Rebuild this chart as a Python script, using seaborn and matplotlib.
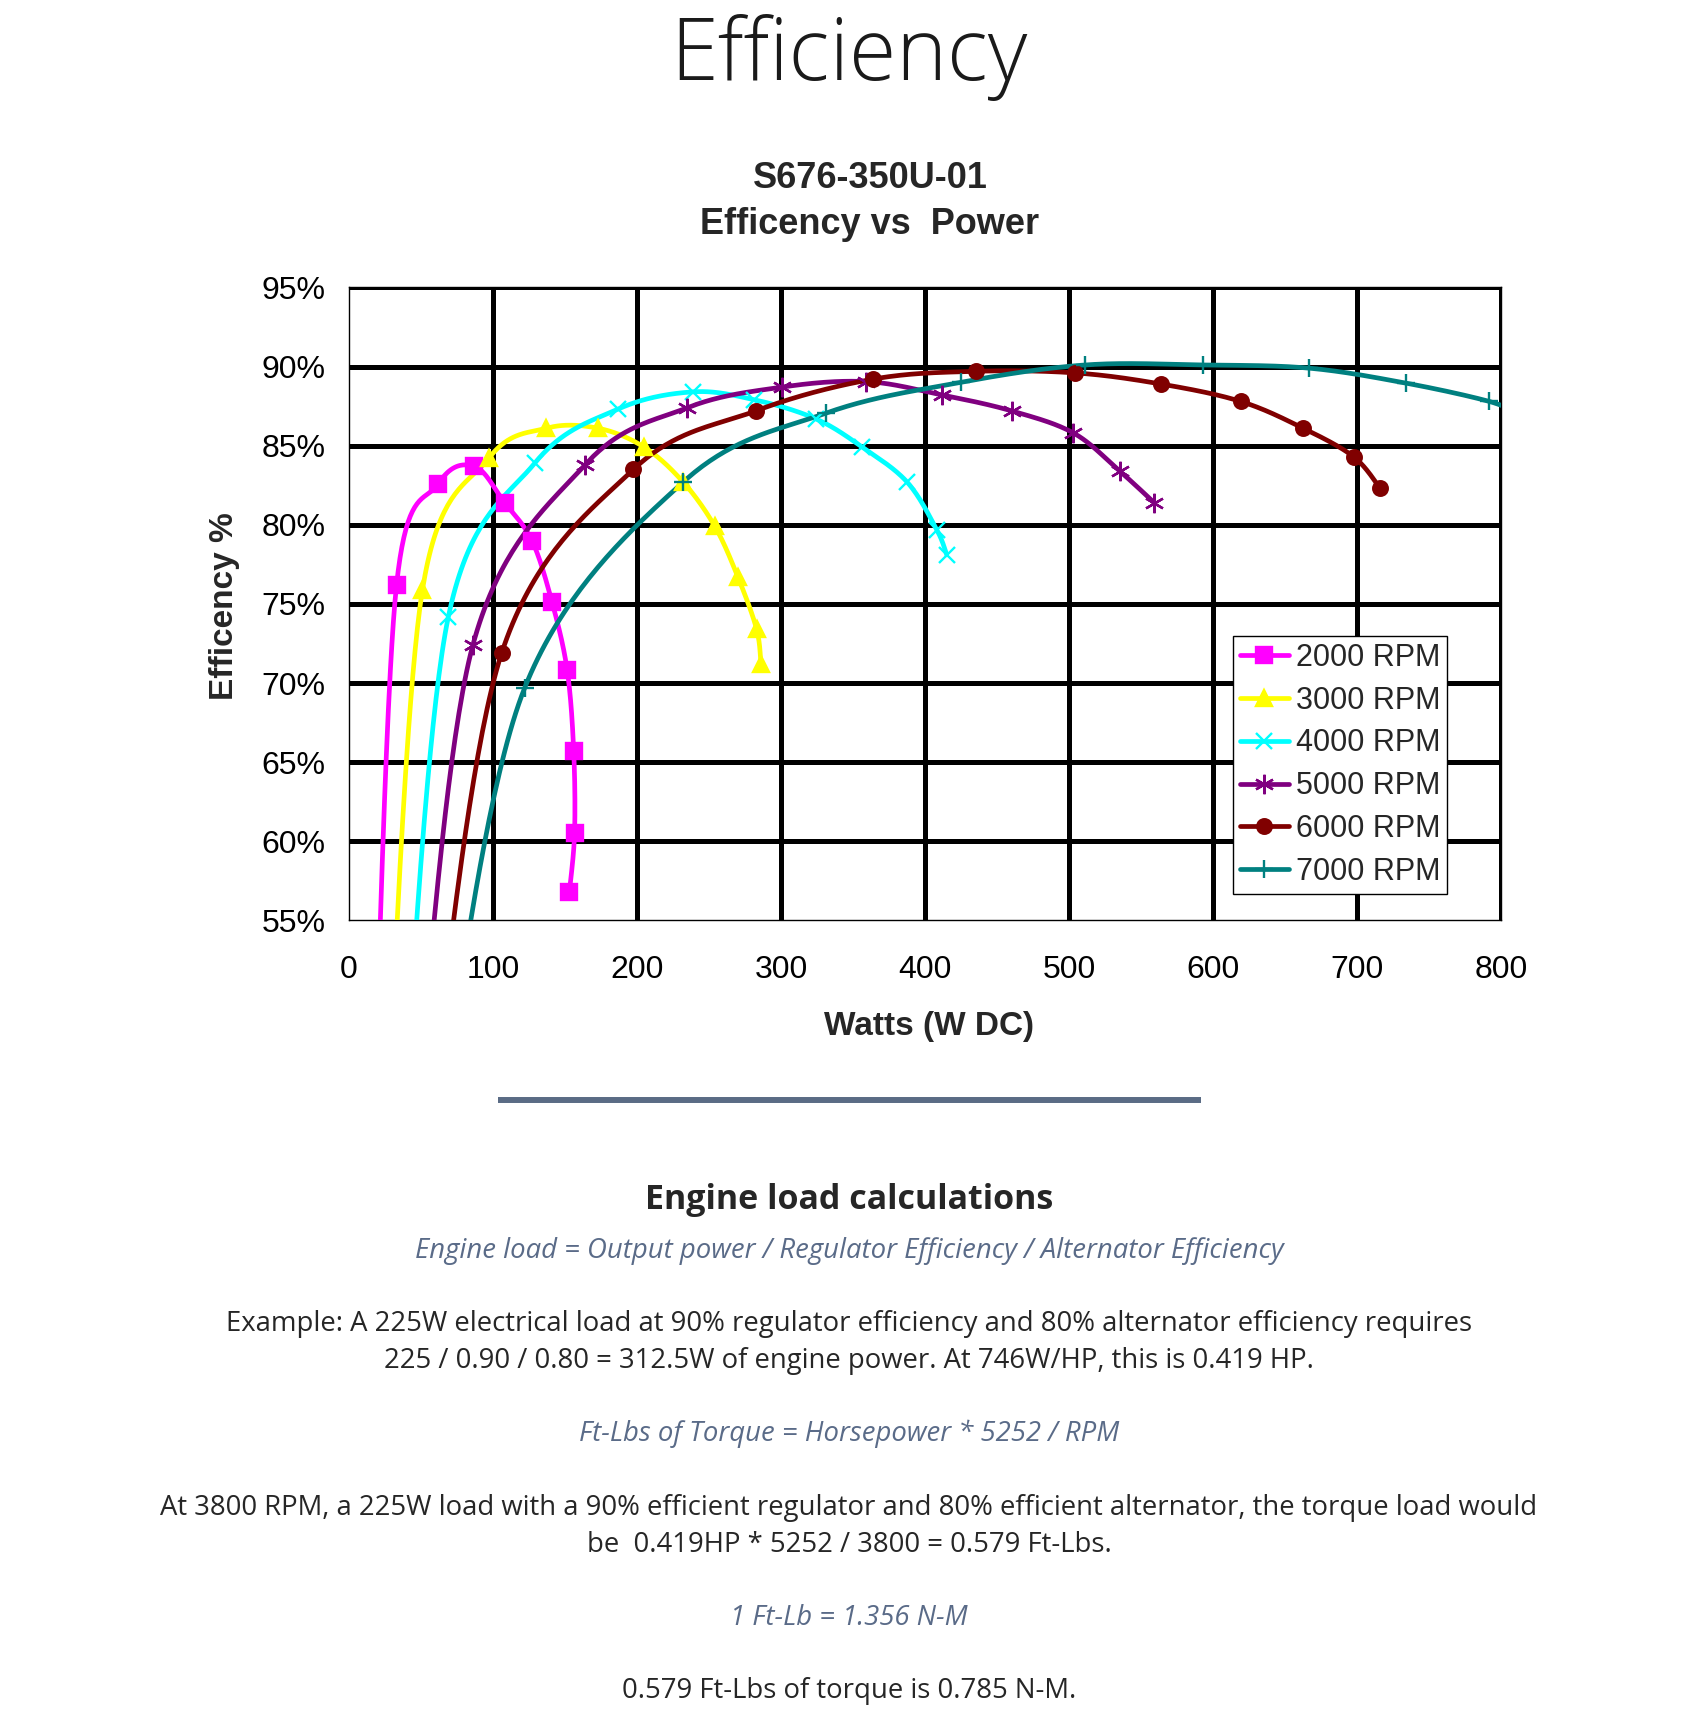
import numpy as np
import pandas as pd
import seaborn as sns
import matplotlib.pyplot as plt
from matplotlib.lines import Line2D
from matplotlib.ticker import FuncFormatter

# output power (W DC) and efficiency (%) per speed.
# the first point of every series lies below the 55% floor and is clipped.
w_2000 = [18, 33, 62, 87, 108, 127, 141, 151.5, 156, 156.6, 153]
e_2000 = [45, 76.2, 82.6, 83.7, 81.4, 79.0, 75.1, 70.8, 65.7, 60.5, 56.8]

w_3000 = [27.5, 51, 97, 137, 173, 205, 232, 254, 270, 283, 286]
e_3000 = [45, 75.9, 84.2, 86.1, 86.1, 84.9, 82.7, 79.9, 76.7, 73.4, 71.2]

w_4000 = [39, 69, 129, 186.5, 238.5, 281.5, 324, 356.5, 387.5, 408, 415]
e_4000 = [45, 74.2, 83.9, 87.3, 88.4, 87.9, 86.7, 84.9, 82.7, 79.7, 78.1]

w_5000 = [48.5, 86, 164, 235, 300.5, 359, 412, 460, 503, 535, 559]
e_5000 = [45, 72.4, 83.8, 87.4, 88.7, 89.05, 88.2, 87.2, 85.8, 83.4, 81.4]

w_6000 = [58.5, 106, 197.5, 282.5, 363.5, 435, 504, 563.5, 619, 662.5, 697.5, 716]
e_6000 = [45, 71.9, 83.5, 87.2, 89.2, 89.7, 89.6, 88.9, 87.8, 86.1, 84.3, 82.3]

w_7000 = [66.5, 122, 232, 331, 424.6, 511, 593, 666.5, 734, 791.5, 812]
e_7000 = [45, 69.7, 82.7, 87.05, 89.0, 90.1, 90.1, 89.9, 88.95, 87.8, 87.0]

labels = ['2000 RPM', '3000 RPM', '4000 RPM', '5000 RPM', '6000 RPM', '7000 RPM']
colors = ['#FF00FF', '#FFFF00', '#00FFFF', '#800080', '#800000', '#008080']
markers = ['s', '^', 'x', (6, 2, 0), 'o', '+']
msizes = [11, 11, 12, 14, 10.5, 13]

series = [(w_2000, e_2000), (w_3000, e_3000), (w_4000, e_4000),
          (w_5000, e_5000), (w_6000, e_6000), (w_7000, e_7000)]


def smooth(x, y, n=40):
    # excel style smoothed line: bezier segments with catmull-rom handles
    p = np.column_stack([x, y]).astype(float)
    p = np.vstack([p[0], p, p[-1]])
    out = []
    t = np.linspace(0, 1, n)[:, None]
    for i in range(1, len(p) - 2):
        p0, p1, p2, p3 = p[i - 1], p[i], p[i + 1], p[i + 2]
        b1 = p1 + (p2 - p0) / 6
        b2 = p2 - (p3 - p1) / 6
        seg = (1 - t) ** 3 * p1 + 3 * (1 - t) ** 2 * t * b1 + 3 * (1 - t) * t ** 2 * b2 + t ** 3 * p2
        out.append(seg)
    return np.vstack(out)


sns.set_style('white')
narrow = ['Open Sans', 'DejaVu Sans']
plt.rcParams['font.family'] = ['Liberation Sans', 'DejaVu Sans']

fig = plt.figure(figsize=(17, 17.12), dpi=100)
ax = fig.add_axes([0.2053, 0.4624, 0.6778, 0.3697])

for (w, e), lab, c, m, ms in zip(series, labels, colors, markers, msizes):
    curve = smooth(w, e)
    df = pd.DataFrame({'W': curve[:, 0], 'E': curve[:, 1]})
    sns.lineplot(data=df, x='W', y='E', sort=False, estimator=None,
                 color=c, linewidth=3.4, ax=ax, legend=False, zorder=3)
    ax.plot(w, e, linestyle='none', marker=m, markersize=ms, color=c,
            markeredgewidth=1.7, zorder=4)

ax.set_xlim(0, 800)
ax.set_ylim(55, 95)
ax.set_xticks(range(0, 801, 100))
ax.set_yticks(range(55, 96, 5))
for xv in range(100, 801, 100):
    ax.axvline(xv, color='black', linewidth=3.6, zorder=1)
for yv in range(60, 96, 5):
    ax.axhline(yv, color='black', linewidth=3.6, zorder=1)

ax.yaxis.set_major_formatter(FuncFormatter(lambda v, p: f'{v:.0f}%'))
ax.tick_params(axis='both', direction='out', length=5, width=1, color='black',
               labelsize=23, labelcolor='black')
ax.tick_params(axis='y', pad=12)
ax.tick_params(axis='x', pad=20)
for s in ax.spines.values():
    s.set_color('black')
    s.set_linewidth(1)
ax.set_xlabel('')
ax.set_ylabel('')

handles = [Line2D([0], [0], color=c, linewidth=3.4, marker=m, markersize=ms,
                  markeredgewidth=1.7)
           for c, m, ms in zip(colors, markers, msizes)]
leg = ax.legend(handles, labels, loc='upper left', bbox_to_anchor=(0.7674, 0.4493),
                borderaxespad=0, fontsize=22, frameon=True, fancybox=False,
                edgecolor='black', framealpha=1, handlelength=1.6,
                handletextpad=0.22, labelspacing=0.42, borderpad=0.22)
leg.get_frame().set_linewidth(1)
leg.set_zorder(6)

# chart titles and axis labels
fig.text(0.5118, 1 - 178 / 1712, 'S676-350U-01', ha='center', va='center',
         fontsize=26, fontweight='bold')
fig.text(0.5118, 1 - 225 / 1712, 'Efficency vs  Power', ha='center', va='center',
         fontsize=26, fontweight='bold')
fig.text(224 / 1700, 1 - 606 / 1712, 'Efficency %', rotation=90, ha='center',
         va='center', fontsize=24, fontweight='bold')
fig.text(929 / 1700, 1 - 1026 / 1712, 'Watts (W DC)', ha='center', va='center',
         fontsize=24, fontweight='bold')

# page heading
fig.text(0.4994, 1 - 80 / 1712, 'Efficiency', ha='center', va='baseline',
         fontsize=62, fontweight='light', family=narrow, color='#1a1a1a')

# separator rule
fig.add_artist(Line2D([498 / 1700, 1201 / 1700], [1 - 1100 / 1712] * 2,
                      color='#5a6b85', linewidth=4.3, solid_capstyle='butt',
                      transform=fig.transFigure))

dark = '#262626'
slate = '#5a6b88'
body = 19.8
fig.text(0.4994, 1 - 1200 / 1712, 'Engine load calculations', ha='center', va='center',
         fontsize=24.5, fontweight='bold', family=narrow, color=dark)
fig.text(0.4994, 1 - 1251 / 1712,
         'Engine load = Output power / Regulator Efficiency / Alternator Efficiency',
         ha='center', va='center', fontsize=body, style='italic', family=narrow, color=slate)
fig.text(0.4994, 1 - 1324 / 1712,
         'Example: A 225W electrical load at 90% regulator efficiency and 80% alternator efficiency requires',
         ha='center', va='center', fontsize=body, family=narrow, color=dark)
fig.text(0.4994, 1 - 1361 / 1712,
         '225 / 0.90 / 0.80 = 312.5W of engine power. At 746W/HP, this is 0.419 HP.',
         ha='center', va='center', fontsize=body, family=narrow, color=dark)
fig.text(0.4994, 1 - 1434 / 1712, 'Ft-Lbs of Torque = Horsepower * 5252 / RPM',
         ha='center', va='center', fontsize=body, style='italic', family=narrow, color=slate)
fig.text(0.4994, 1 - 1508 / 1712,
         'At 3800 RPM, a 225W load with a 90% efficient regulator and 80% efficient alternator, the torque load would',
         ha='center', va='center', fontsize=body, family=narrow, color=dark)
fig.text(0.4994, 1 - 1545 / 1712, 'be  0.419HP * 5252 / 3800 = 0.579 Ft-Lbs.',
         ha='center', va='center', fontsize=body, family=narrow, color=dark)
fig.text(0.4994, 1 - 1618 / 1712, '1 Ft-Lb = 1.356 N-M',
         ha='center', va='center', fontsize=body, style='italic', family=narrow, color=slate)
fig.text(0.4994, 1 - 1691 / 1712, '0.579 Ft-Lbs of torque is 0.785 N-M.',
         ha='center', va='center', fontsize=body, family=narrow, color=dark)

fig.savefig('out.png', dpi=100, facecolor='white')
